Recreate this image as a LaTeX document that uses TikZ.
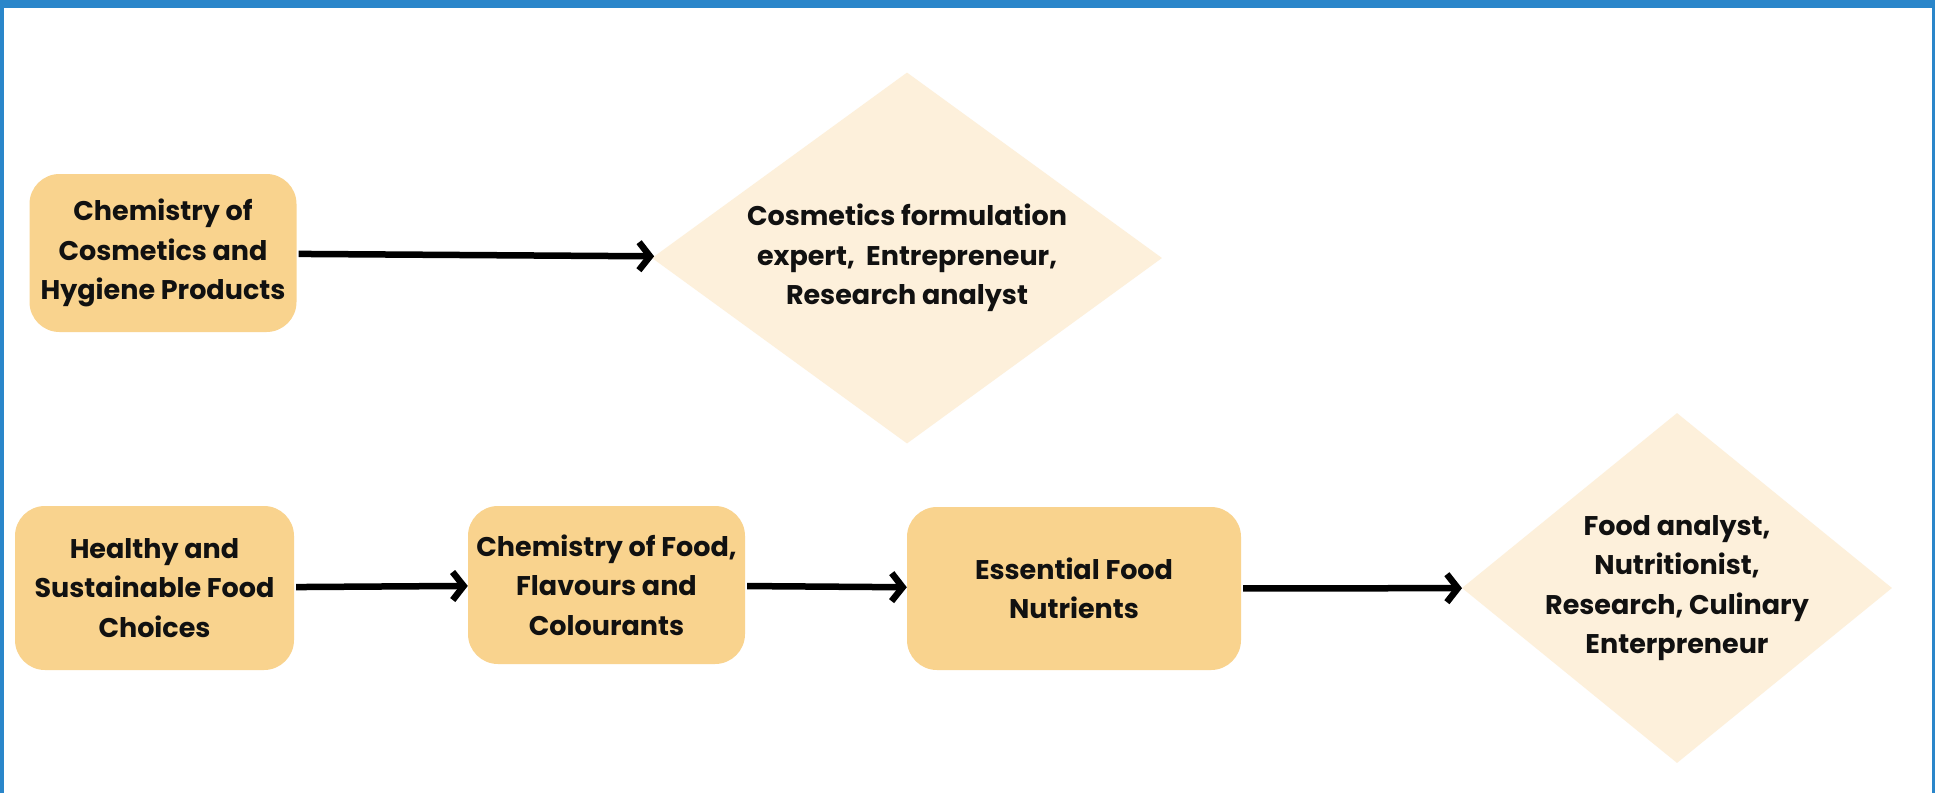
\documentclass[tikz,border=0pt]{standalone}
\usepackage{fontspec}
\setmainfont{Poppins}
\usetikzlibrary{shapes.geometric,arrows.meta}
\definecolor{flowcolor0001}{RGB}{42,134,202}
\definecolor{flowcolor0002}{RGB}{249,211,142}
\definecolor{flowcolor0003}{RGB}{253,240,219}
\definecolor{flowcolor0004}{RGB}{17,17,17}
\begin{document}
\begin{tikzpicture}[yscale=-1
,pstyle0/.style={fill=flowcolor0001,draw=none}
,pstyle1/.style={rectangle,rounded corners=30pt,fill=flowcolor0002,draw=none,align=center,text=flowcolor0004,font=\fontsize{27}{39.5}\selectfont\bfseries}
,pstyle2/.style={diamond,fill=flowcolor0003,draw=none,inner sep=0pt}
,pstyle3/.style={align=center,text=flowcolor0004,font=\fontsize{27}{39.5}\selectfont\bfseries}
,pstyle4/.style={-{Straight Barb[length=11pt,width=28pt]},line width=6.5pt,color=black,shorten <=2pt}
]
\useasboundingbox (0pt,0pt) rectangle (1935pt,793pt);
\fill[pstyle0] (0pt,0pt) rectangle (1935pt,793pt);
\fill[white] (4pt,8pt) rectangle (1932pt,793pt);
\node[pstyle1,minimum width=267pt,minimum height=158pt] (cosm) at (163pt,253pt) {Chemistry of\\Cosmetics and\\Hygiene Products};
\node[pstyle2,minimum width=510pt,minimum height=371pt,label={[pstyle3]center:{Cosmetics formulation\\expert,\ \ Entrepreneur,\\Research analyst}}] (cosmjob) at (907pt,258pt) {};
\node[pstyle1,minimum width=279pt,minimum height=164pt] (healthy) at (154.5pt,588pt) {Healthy and\\Sustainable Food\\Choices};
\node[pstyle1,minimum width=277pt,minimum height=158pt] (foodchem) at (606.5pt,585pt) {Chemistry of Food,\\Flavours and\\Colourants};
\node[pstyle1,minimum width=334pt,minimum height=163pt] (nutri) at (1074pt,588.5pt) {Essential Food\\Nutrients};
\node[pstyle2,minimum width=430pt,minimum height=350pt,label={[pstyle3]center:{Food analyst,\\Nutritionist,\\Research, Culinary\\Enterpreneur}}] (foodjob) at (1677pt,588pt) {};
\draw[pstyle4] (cosm) -- (cosmjob);
\draw[pstyle4] (healthy) -- (foodchem);
\draw[pstyle4] (foodchem) -- (nutri);
\draw[pstyle4] (nutri) -- (foodjob);
\end{tikzpicture}
\end{document}
